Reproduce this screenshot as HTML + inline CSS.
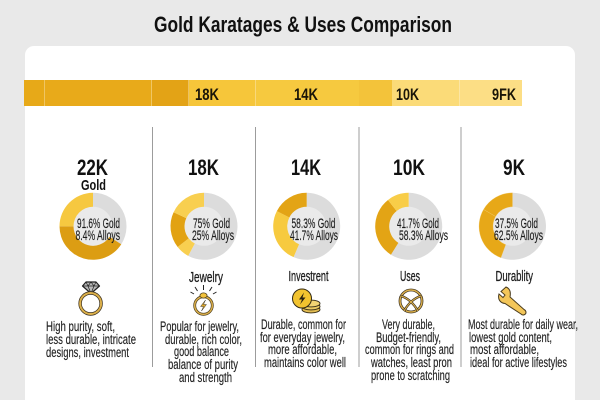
<!DOCTYPE html>
<html lang="en">
<head>
<meta charset="utf-8">
<title>Gold Karatages &amp; Uses Comparison</title>
<style>
html,body{margin:0;padding:0;background:#e9e9e9;}
svg{display:block;}
text{font-family:"Liberation Sans Narrow","Liberation Sans",sans-serif;fill:#1a1a1a;}
.t{font-size:14.2px;fill:#222;stroke:#222;stroke-width:0.15px;}
.b{font-weight:700;fill:#111;}
.d{font-size:13.8px;fill:#1c1c1c;stroke:#1c1c1c;stroke-width:0.15px;}
.u{font-size:15px;fill:#1c1c1c;stroke:#1c1c1c;stroke-width:0.3px;}
.k{font-size:22px;font-weight:700;fill:#111;}
.bl{font-size:17px;font-weight:700;fill:#1a1508;}
</style>
</head>
<body>
<svg id="chart" xmlns="http://www.w3.org/2000/svg" width="600" height="400" viewBox="0 0 600 400">
  <rect x="0" y="0" width="600" height="400" fill="#e9e9e9"/>
  <rect x="25" y="46" width="550" height="370" rx="9" fill="#ffffff"/>
  <text class="b" x="154" y="32" font-size="22" textLength="298" lengthAdjust="spacingAndGlyphs">Gold Karatages &amp; Uses Comparison</text>

  <g id="bar"></g>
  <text class="bl" x="195" y="100" textLength="24" lengthAdjust="spacingAndGlyphs">18K</text>
  <text class="bl" x="294" y="100" textLength="24" lengthAdjust="spacingAndGlyphs">14K</text>
  <text class="bl" x="396" y="100" textLength="23" lengthAdjust="spacingAndGlyphs">10K</text>
  <text class="bl" x="492" y="100" textLength="24" lengthAdjust="spacingAndGlyphs">9FK</text>

  <g stroke="#9c9c9c" stroke-width="1">
    <line x1="152.5" y1="127" x2="152.5" y2="367"/>
    <line x1="255.5" y1="127" x2="255.5" y2="367"/>
    <line x1="359" y1="127" x2="359" y2="367"/>
    <line x1="461" y1="127" x2="461" y2="367"/>
  </g>

  <text class="k" x="77" y="175" textLength="31" lengthAdjust="spacingAndGlyphs">22K</text>
  <text class="b" x="81" y="190" font-size="15" textLength="25" lengthAdjust="spacingAndGlyphs">Gold</text>
  <text class="k" x="188" y="175" textLength="31" lengthAdjust="spacingAndGlyphs">18K</text>
  <text class="k" x="291" y="175" textLength="30" lengthAdjust="spacingAndGlyphs">14K</text>
  <text class="k" x="393" y="175" textLength="32" lengthAdjust="spacingAndGlyphs">10K</text>
  <text class="k" x="503" y="175" textLength="22" lengthAdjust="spacingAndGlyphs">9K</text>

  <g id="donuts"></g>

  <g>
    <text class="d" x="77" y="228" textLength="43" lengthAdjust="spacingAndGlyphs">91.6% Gold</text>
    <text class="d" x="75.5" y="240" textLength="44.5" lengthAdjust="spacingAndGlyphs">8.4% Alloys</text>
    <text class="d" x="193" y="228" textLength="37" lengthAdjust="spacingAndGlyphs">75% Gold</text>
    <text class="d" x="192" y="240" textLength="42" lengthAdjust="spacingAndGlyphs">25% Alloys</text>
    <text class="d" x="291.5" y="228" textLength="44" lengthAdjust="spacingAndGlyphs">58.3% Gold</text>
    <text class="d" x="290" y="240" textLength="48" lengthAdjust="spacingAndGlyphs">41.7% Alloys</text>
    <text class="d" x="397" y="228" textLength="42" lengthAdjust="spacingAndGlyphs">41.7% Gold</text>
    <text class="d" x="399" y="240" textLength="49" lengthAdjust="spacingAndGlyphs">58.3% Alloys</text>
    <text class="d" x="495" y="228" textLength="43" lengthAdjust="spacingAndGlyphs">37.5% Gold</text>
    <text class="d" x="494" y="240" textLength="49" lengthAdjust="spacingAndGlyphs">62.5% Alloys</text>
  </g>

  <text class="u" x="189" y="282" textLength="34" lengthAdjust="spacingAndGlyphs">Jewelry</text>
  <text class="u" x="288.5" y="281" textLength="40" lengthAdjust="spacingAndGlyphs">Investrent</text>
  <text class="u" x="400" y="281" textLength="20" lengthAdjust="spacingAndGlyphs">Uses</text>
  <text class="u" x="495.5" y="281" textLength="37.5" lengthAdjust="spacingAndGlyphs">Durablity</text>

  <g>
    <path d="M86 282H96L99.5 286L91 293.5L82.5 286Z" fill="#b9b9b9" stroke="#222" stroke-width="1.2" stroke-linejoin="round"/>
    <path d="M82.5 286H99.5M86 282L88 286L91 293.5L94 286L96 282M88 286L91 282L94 286" fill="none" stroke="#222" stroke-width="0.7"/>
    <circle cx="90.6" cy="303.5" r="10.5" fill="none" stroke="#3a3020" stroke-width="3.4"/>
    <circle cx="90.6" cy="303.5" r="10.5" fill="none" stroke="#dcb04a" stroke-width="2"/>
  </g>

  <g>
    <path d="M203.5 285V290M195 287L197.5 291M212 287L209.5 291M190.5 292L194 294M216.5 292L213 294" stroke="#222" stroke-width="1" fill="none"/>
    <circle cx="203.5" cy="305.5" r="8.8" fill="#fff" stroke="#4a3c1e" stroke-width="2.8"/>
    <circle cx="203.5" cy="305.5" r="8.8" fill="none" stroke="#dcb04a" stroke-width="1.5"/>
    <ellipse cx="203.5" cy="295.5" rx="3.6" ry="2.6" fill="#f2c23b" stroke="#4a3c1e" stroke-width="0.8"/>
    <path d="M205.5 300L200.5 306.5H203.5L201.5 311L206.5 304.5H203.5Z" fill="#e0a92a" stroke="#333" stroke-width="0.5"/>
  </g>

  <g>
    <ellipse cx="311" cy="309.5" rx="9" ry="3.4" fill="#e3bd52" stroke="#332a14" stroke-width="0.9"/>
    <ellipse cx="311" cy="306.5" rx="9" ry="3.4" fill="#eccb62" stroke="#332a14" stroke-width="0.9"/>
    <ellipse cx="311" cy="303.5" rx="9" ry="3.4" fill="#f2d473" stroke="#332a14" stroke-width="0.9"/>
    <circle cx="302" cy="298.5" r="9.5" fill="#f2c32f" stroke="#332a14" stroke-width="1"/>
    <path d="M304 292.5L299 299.5H302L300 304.5L305.5 297.5H302.5Z" fill="#2a2210"/>
  </g>

  <g fill="none">
    <circle cx="411" cy="301" r="11" stroke="#3a3020" stroke-width="2.8"/>
    <circle cx="411" cy="301" r="11" stroke="#dcb04a" stroke-width="1.4"/>
    <path d="M401 296Q411 299 418 311M421 296Q411 299 404 311" stroke="#3a3020" stroke-width="2.4"/>
    <path d="M401 296Q411 299 418 311M421 296Q411 299 404 311" stroke="#dcb04a" stroke-width="1.1"/>
  </g>

  <g>
    <path d="M506 287L501 291.5L505 295L503 297.5L499 294C497.5 299 500 303 505 303.5L521 314C523 316 526 314.5 526 312.5C526 311 525 310 524 309.5L510 297C511 292 510 288.5 506 287Z" fill="#f3c659" stroke="#4a3c1e" stroke-width="1"/>
  </g>

  <g class="t">
    <text class="t" x="46" y="331" textLength="69" lengthAdjust="spacingAndGlyphs">High purity, soft,</text>
    <text class="t" x="46" y="344" textLength="90" lengthAdjust="spacingAndGlyphs">less durable, intricate</text>
    <text class="t" x="46" y="357" textLength="83" lengthAdjust="spacingAndGlyphs">designs, investment</text>
  </g>
  <g>
    <text class="t" x="160" y="331" textLength="79" lengthAdjust="spacingAndGlyphs">Popular for jewelry,</text>
    <text class="t" x="165" y="344" textLength="77" lengthAdjust="spacingAndGlyphs">durable, rich color,</text>
    <text class="t" x="174" y="356" textLength="55" lengthAdjust="spacingAndGlyphs">good balance</text>
    <text class="t" x="168" y="369" textLength="70" lengthAdjust="spacingAndGlyphs">balance of purity</text>
    <text class="t" x="179" y="382" textLength="53" lengthAdjust="spacingAndGlyphs">and strength</text>
  </g>
  <g>
    <text class="t" x="261" y="329" textLength="85" lengthAdjust="spacingAndGlyphs">Durable, common for</text>
    <text class="t" x="260" y="342" textLength="85" lengthAdjust="spacingAndGlyphs">for everyday jewelry,</text>
    <text class="t" x="268" y="354" textLength="69" lengthAdjust="spacingAndGlyphs">more affordable,</text>
    <text class="t" x="264" y="367" textLength="82" lengthAdjust="spacingAndGlyphs">maintains color well</text>
  </g>
  <g>
    <text class="t" x="382" y="329" textLength="53" lengthAdjust="spacingAndGlyphs">Very durable,</text>
    <text class="t" x="376" y="342" textLength="65" lengthAdjust="spacingAndGlyphs">Budget-friendly,</text>
    <text class="t" x="365" y="354" textLength="89" lengthAdjust="spacingAndGlyphs">common for rings and</text>
    <text class="t" x="371" y="367" textLength="81" lengthAdjust="spacingAndGlyphs">watches, least pron</text>
    <text class="t" x="371" y="380" textLength="79" lengthAdjust="spacingAndGlyphs">prone to scratching</text>
  </g>
  <g>
    <text class="t" x="468" y="329" textLength="110" lengthAdjust="spacingAndGlyphs">Most durable for daily wear,</text>
    <text class="t" x="469" y="342" textLength="83" lengthAdjust="spacingAndGlyphs">lowest gold content,</text>
    <text class="t" x="470" y="354" textLength="69" lengthAdjust="spacingAndGlyphs">most affordable,</text>
    <text class="t" x="470" y="367" textLength="97" lengthAdjust="spacingAndGlyphs">ideal for active lifestyles</text>
  </g>
</svg>

<script>
// Stacked bar values, left to right
const barSegmentValues = [21, 107, 37, 67, 103, 33, 68, 62];
const barSegmentColors = ['#e7a918', '#e8aa1a', '#e3a316', '#f6c63a', '#f6c93f', '#f3c33a', '#fbdb78', '#fcde85'];

// Donut values: percent of the ring, clockwise from 12 o'clock
const karats = ['22k', '18k', '14k', '10k', '9k'];
const alloySlice = [34, 57.8, 56.4, 58.9, 55.6];
const goldSliceA = [0, 6.6, 0, 0, 0];
const goldSliceB = [41, 17.5, 26.1, 30.5, 27.8];
const goldSliceC = [25, 18.1, 17.5, 10.6, 16.6];
const sliceAColors = ['#f6c840', '#f8cf50', '#f6c840', '#f6c840', '#e7a818'];
const sliceBColors = ['#dc9d13', '#e2a212', '#f7ca3f', '#e3a415', '#e7a818'];
const sliceCColors = ['#f6c840', '#f8cf50', '#e3a415', '#f8cd48', '#e7a818'];

const SVG_NS = 'http://www.w3.org/2000/svg';
const barGroup = document.getElementById('bar');
const donutGroup = document.getElementById('donuts');

// Bar axis
const barLeft = 24, barRight = 522, barTop = 80, barHeight = 26;
const barTotal = barSegmentValues.reduce((a, b) => a + b, 0);
const barX = v => barLeft + (v / barTotal) * (barRight - barLeft);

let barRunning = 0;
barSegmentValues.forEach((value, i) => {
  const rect = document.createElementNS(SVG_NS, 'rect');
  
  
  rect.setAttribute('x', barX(barRunning));
  rect.setAttribute('y', barTop);
  rect.setAttribute('width', barX(barRunning + value) - barX(barRunning));
  rect.setAttribute('height', barHeight);
  rect.setAttribute('fill', barSegmentColors[i]);
  barGroup.appendChild(rect);
  barRunning += value;
  if (i < barSegmentValues.length - 1 && i !== 5 && i !== 4) {
    const sep = document.createElementNS(SVG_NS, 'rect');
    
    
    sep.setAttribute('x', barX(barRunning) - 0.5);
    sep.setAttribute('y', barTop);
    sep.setAttribute('width', 1);
    sep.setAttribute('height', barHeight);
    sep.setAttribute('fill', '#fff');
    sep.setAttribute('fill-opacity', '0.65');
    barGroup.appendChild(sep);
  }
});

// Donut axis: percent to angle
const donutCenterX = [93, 204, 306.7, 408.7, 512.5];
const donutCenterY = 226.3;
const outerR = 33.5, innerR = 19.5;
const angle = pct => (pct / 100) * 2 * Math.PI - Math.PI / 2;
const pt = (cx, r, a) => (cx + r * Math.cos(a)).toFixed(2) + ' ' + (donutCenterY + r * Math.sin(a)).toFixed(2);

function arcPath(cx, p0, p1) {
  const a0 = angle(p0), a1 = angle(p1);
  const large = (p1 - p0) > 50 ? 1 : 0;
  return 'M' + pt(cx, outerR, a0) +
    'A' + outerR + ' ' + outerR + ' 0 ' + large + ' 1 ' + pt(cx, outerR, a1) +
    'L' + pt(cx, innerR, a1) +
    'A' + innerR + ' ' + innerR + ' 0 ' + large + ' 0 ' + pt(cx, innerR, a0) + 'Z';
}

karats.forEach((karat, i) => {
  const cx = donutCenterX[i];
  const values = [alloySlice[i], goldSliceA[i], goldSliceB[i], goldSliceC[i]];
  const colors = ['#dcdcdc', sliceAColors[i], sliceBColors[i], sliceCColors[i]];
  const total = values.reduce((a, b) => a + b, 0);
  const group = document.createElementNS(SVG_NS, 'g');
  
  

  const hole = document.createElementNS(SVG_NS, 'circle');
  
  
  hole.setAttribute('cx', cx);
  hole.setAttribute('cy', donutCenterY);
  hole.setAttribute('r', innerR + 0.5);
  hole.setAttribute('fill', '#eaeaea');
  group.appendChild(hole);

  let run = 0;
  values.forEach((value, j) => {
    if (value <= 0) return;
    const share = value / total * 100;
    const slice = document.createElementNS(SVG_NS, 'path');
    
    
    slice.setAttribute('d', arcPath(cx, run, run + share));
    slice.setAttribute('fill', colors[j]);
    slice.setAttribute('stroke', colors[j] === '#e7a818' ? '#f3cf7a' : 'none');
    slice.setAttribute('stroke-width', colors[j] === '#e7a818' ? '0.3' : '0');
    group.appendChild(slice);
    run += share;
  });
  donutGroup.appendChild(group);
});
</script>
</body>
</html>
